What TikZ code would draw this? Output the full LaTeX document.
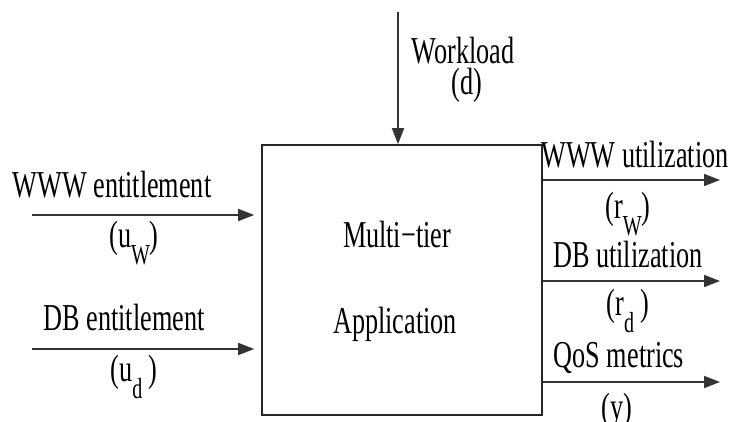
\documentclass[tikz,border=0pt]{standalone}
\usepackage{fontspec}
\setmainfont[FakeStretch=0.69]{Liberation Serif}
\usetikzlibrary{arrows.meta}
\newcommand\lowsub[1]{\raisebox{-17pt}{\fontsize{29}{30}\selectfont #1}}
\begin{document}
\begin{tikzpicture}[x=1pt,y=-1pt,
  lbl/.style={anchor=base,inner sep=0pt,font=\fontsize{38}{40}\selectfont},
  wire/.style={line width=1.6pt,draw=black!80,-{Triangle[length=16pt,width=12pt]}},
  blk/.style={draw=black!85,line width=1.6pt,minimum width=280pt,minimum height=270pt,inner sep=0pt}]
\useasboundingbox (0,0) rectangle (732,421);

% central block
\node[blk] (box) at (402,280) {};
\node[lbl] (l1) at (397,247) {Multi−tier};
\node[lbl] (l2) at (395,333) {Application};

% workload input from the top
\coordinate (wtop) at (398,12);
\draw[wire] (wtop) -- (wtop |- box.north);
\node[lbl] (wl) at (463,63) {Workload};
\node[lbl] (wd) at (467,94) {(d)};

% entitlement inputs on the left
\coordinate (inw) at (32,215);
\coordinate (ind) at (32,349);
\draw[wire,shorten >=7pt] (inw) -- (inw -| box.west);
\draw[wire,shorten >=7pt] (ind) -- (ind -| box.west);
\node[lbl] (wwwent) at (112,197) {WWW entitlement};
\node[lbl] (uw) at (134,247) {(u\lowsub{W})};
\node[lbl] (dbent) at (124,330) {DB entitlement};
\node[lbl] (ud) at (134,381) {(u\lowsub{d}\,)};

% measured outputs on the right
\coordinate (orw) at (720,180);
\coordinate (ord) at (720,281);
\coordinate (oy) at (720,382);
\draw[wire] (orw -| box.east) -- (orw);
\draw[wire] (ord -| box.east) -- (ord);
\draw[wire] (oy -| box.east) -- (oy);
\node[lbl] (wwwut) at (635,167) {WWW utilization};
\node[lbl] (rw) at (628,218) {(r\lowsub{W})};
\node[lbl] (dbut) at (628,267) {DB utilization};
\node[lbl] (rd) at (628,315) {(r\lowsub{d}\,)};
\node[lbl] (qos) at (619,367) {QoS metrics};
\node[lbl] (yy) at (617,419) {(y)};
\end{tikzpicture}
\end{document}
